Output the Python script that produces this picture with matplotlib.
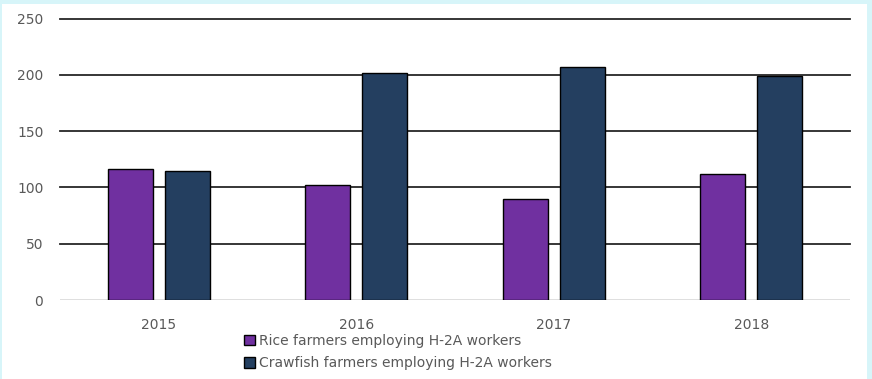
import matplotlib.pyplot as plt
import numpy as np
from matplotlib.patches import Rectangle

years = ["2015", "2016", "2017", "2018"]
rice = [116, 102, 90, 112]
crawfish = [115, 202, 207, 199]
series_labels = ["Rice farmers employing H-2A workers",
                 "Crawfish farmers employing H-2A workers"]
y_ticks = [0, 50, 100, 150, 200, 250]

RICE_COLOR = "#7030a0"
CRAWFISH_COLOR = "#243f60"
TEXT_COLOR = "#595959"

fig = plt.figure(figsize=(8.72, 3.79), dpi=100, facecolor="#d7f5f9")
# white chart panel inside the tinted frame
fig.patches.append(Rectangle((2 / 872, 0), 865 / 872, 375 / 379,
                             transform=fig.transFigure, facecolor="white",
                             edgecolor="none", zorder=-1))

ax = fig.add_axes([60 / 872, 79 / 379, 790 / 872, 281.5 / 379])
ax.set_facecolor("none")

x = np.arange(len(years))
w = 0.228
off = 0.145
ax.bar(x - off, rice, w, color=RICE_COLOR, edgecolor="black", lw=1.0,
       label=series_labels[0], zorder=3)
ax.bar(x + off, crawfish, w, color=CRAWFISH_COLOR, edgecolor="black", lw=1.0,
       label=series_labels[1], zorder=3)

ax.set_xlim(-0.5, len(years) - 0.5)
ax.set_ylim(0, 250)
ax.set_yticks(y_ticks)
ax.set_xticks(x, years)
for v in y_ticks[1:]:
    ax.axhline(v, color="#262626", lw=1.3, zorder=1, clip_on=False)
ax.axhline(0, color="#d9d9d9", lw=1.2, zorder=1)

for s in ax.spines.values():
    s.set_visible(False)
ax.tick_params(length=0, colors=TEXT_COLOR, labelsize=10)
ax.tick_params(axis="y", pad=12)
ax.tick_params(axis="x", pad=13)

leg = fig.legend(loc="upper left", bbox_to_anchor=(237 / 872, 52 / 379),
                 frameon=False, fontsize=10, handlelength=0.8,
                 handleheight=0.8, handletextpad=0.3, labelspacing=0.6,
                 borderpad=0)
for t in leg.get_texts():
    t.set_color(TEXT_COLOR)

fig.savefig("out.png", dpi=100, facecolor=fig.get_facecolor())
